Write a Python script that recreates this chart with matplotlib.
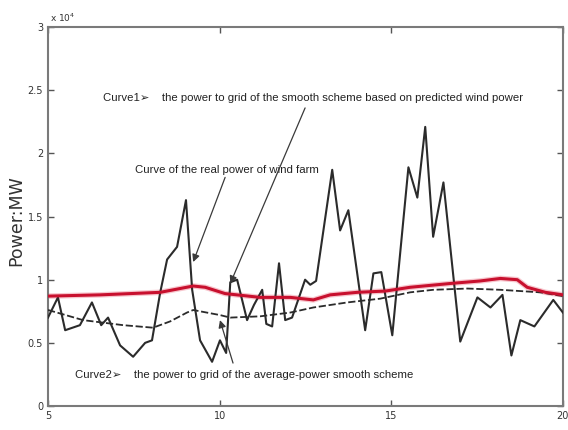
import matplotlib
matplotlib.use("Agg")
import matplotlib.pyplot as plt
from matplotlib.ticker import FuncFormatter

# Real wind-farm power (MW)
real_t = [5.00, 5.29, 5.50, 5.93, 6.28, 6.55, 6.75, 7.10, 7.48, 7.83, 8.03, 8.27,
          8.47, 8.76, 9.02, 9.20, 9.43, 9.78, 10.01, 10.19, 10.31, 10.51, 10.80,
          11.00, 11.24, 11.36, 11.53, 11.73, 11.91, 12.11, 12.49, 12.64, 12.81,
          13.28, 13.51, 13.75, 14.24, 14.48, 14.71, 15.03, 15.50, 15.76, 15.99,
          16.22, 16.52, 17.01, 17.51, 17.89, 18.24, 18.50, 18.76, 19.17, 19.72, 20.00]
real_p = [7000, 8600, 6000, 6400, 8200, 6400, 7000, 4800, 3900, 5000, 5200, 9000,
          11600, 12600, 16300, 9200, 5200, 3500, 5200, 4200, 9800, 10000, 6800,
          8000, 9200, 6500, 6300, 11300, 6800, 7000, 10000, 9600, 9900,
          18700, 13900, 15500, 6000, 10500, 10600, 5600, 18900, 16500, 22100,
          13400, 17700, 5100, 8600, 7800, 8800, 4000, 6800, 6300, 8400, 7400]

# Curve 1: smooth scheme based on predicted wind power
pred_t = [5.00, 6.52, 8.27, 9.23, 9.58, 10.16, 11.18, 12.06, 12.73, 13.22, 14.01,
          14.83, 15.55, 16.72, 17.59, 18.18, 18.67, 18.96, 19.49, 20.00]
pred_p = [8700, 8800, 9000, 9500, 9400, 8900, 8600, 8600, 8400, 8800, 9000,
          9100, 9400, 9700, 9900, 10100, 10000, 9400, 9000, 8800]

# Curve 2: average-power smooth scheme
avg_t = [5.00, 5.26, 6.02, 7.19, 8.06, 8.56, 9.05, 9.23, 10.01, 10.31, 11.18,
         12.06, 12.73, 13.72, 14.68, 15.55, 16.22, 17.22, 18.18, 19.34, 20.00]
avg_p = [7600, 7400, 6800, 6400, 6200, 6700, 7400, 7600, 7200, 7000, 7100,
         7400, 7800, 8200, 8500, 9000, 9200, 9300, 9200, 9000, 8700]

x_ticks = [5, 10, 15, 20]
y_ticks = [0, 5000, 10000, 15000, 20000, 25000, 30000]
y_scale = 1e4

note_font = ["Liberation Sans", "DejaVu Sans"]

fig = plt.figure(figsize=(5.68, 4.30), dpi=100)
ax = fig.add_axes([0.0845, 0.0558, 0.9065, 0.8812])

ax.plot(real_t, real_p, color="#2b2b2b", lw=1.5, zorder=3)
ax.plot(pred_t, pred_p, color="#f2a0ad", lw=4.0, alpha=0.6, zorder=2)
ax.plot(pred_t, pred_p, color="#c8102e", lw=2.2, zorder=4)
ax.plot(avg_t, avg_p, color="#2b2b2b", lw=1.3, ls=(0, (4, 1.5)), zorder=3)

ax.set_xlim(5, 20)
ax.set_ylim(0, 30000)
ax.set_xticks(x_ticks)
ax.set_yticks(y_ticks)
ax.yaxis.set_major_formatter(FuncFormatter(lambda v, pos: f"{v / y_scale:g}"))
ax.text(0.004, 1.008, r"x 10$^{4}$", transform=ax.transAxes, fontsize=6.5,
        color="#333333", ha="left", va="bottom")

ax.tick_params(direction="in", length=4, width=1, colors="#555555",
               labelcolor="#333333", labelsize=7, top=True, right=True)
for side in ax.spines.values():
    side.set_color("#7a7a7a")
    side.set_linewidth(1.5)

ax.set_ylabel("Power:MW", fontsize=12.5, color="#333333")
ax.yaxis.set_label_coords(-0.045, 0.49)

arrow = dict(arrowstyle="-|>", color="#3a3a3a", lw=0.9, mutation_scale=11,
             shrinkA=0, shrinkB=0)

ax.text(6.60, 24400,
        "Curve1\u27a2    the power to grid of the smooth scheme based on predicted wind power",
        fontsize=8.2, family=note_font, color="#222222", va="center")
ax.annotate("", xy=(10.31, 9700), xytext=(12.49, 23600), arrowprops=arrow, zorder=6)

ax.text(7.54, 18700, "Curve of the real power of wind farm",
        fontsize=8.2, family=note_font, color="#222222", va="center")
ax.annotate("", xy=(9.23, 11400), xytext=(10.16, 18100), arrowprops=arrow, zorder=6)

ax.text(5.79, 2450,
        "Curve2\u27a2    the power to grid of the average-power smooth scheme",
        fontsize=8.2, family=note_font, color="#222222", va="center")
ax.annotate("", xy=(10.01, 6800), xytext=(10.39, 3400), arrowprops=arrow, zorder=6)

fig.savefig("out.png", dpi=100, facecolor="white")
